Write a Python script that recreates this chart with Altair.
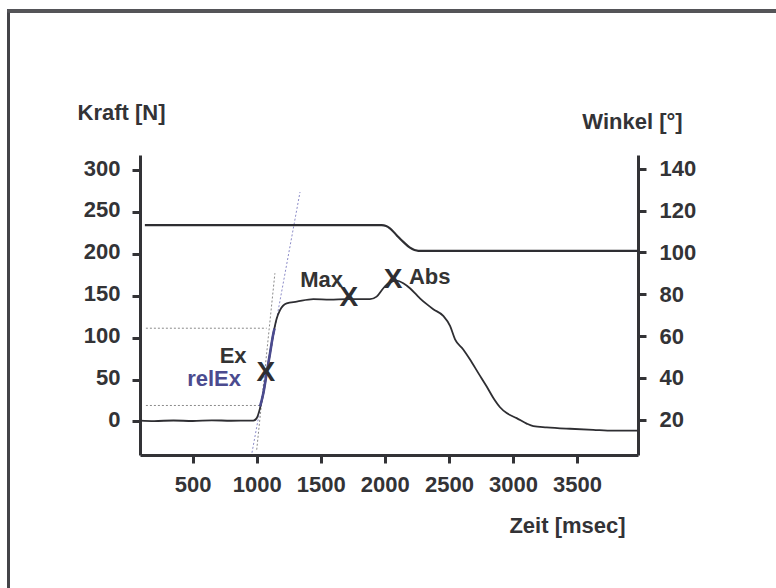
import altair as alt
import pandas as pd

# ---- data ----
t_force = [89, 200, 350, 500, 650, 800, 950, 973, 1000, 1026, 1052, 1078, 1104, 1130, 1156,
           1182, 1234, 1312, 1442, 1572, 1702, 1832, 1884, 1936, 1988, 2040, 2092, 2144, 2196,
           2248, 2274, 2327, 2378, 2456, 2509, 2548, 2612, 2665, 2730, 2795, 2847, 2899, 2951,
           3029, 3107, 3159, 3263, 3445, 3627, 3783, 3976]
f_force = [1.0, 0.5, 1.2, 0.6, 1.4, 0.9, 1.1, 1.0, 4, 16, 34, 58, 81.5, 105, 123,
           133, 141, 143, 146, 145.5, 146, 146, 146, 149, 159, 166, 168, 165, 159,
           151, 147, 140, 134, 126, 114, 98, 86, 74, 57.7, 41.7, 28, 17, 10,
           4, -2.5, -5.5, -7, -8.7, -10, -11, -11]

t_angle = [127, 1975, 2010, 2040, 2092, 2144, 2196, 2261, 3976]
w_angle = [113.1, 113.1, 112.7, 111.6, 108.3, 105.1, 102.3, 100.8, 100.8]

t_relex = [1026, 1052, 1078, 1104, 1130, 1139]
f_relex = [18, 34, 58, 81.5, 105, 111]

level_vals = [111.3, 19.1]
level_start = [135, 135]
level_end = [1078, 1025]

tan_blue_t = [963, 1338]
tan_blue_f = [-37.3, 273.8]
tan_gray_t = [1000, 1142]
tan_gray_f = [-33.7, 176.9]

marker_t = [1072, 1720, 2064]
marker_f = [57.7, 147.4, 169]

lab_text = ["Ex", "relEx", "Max", "Abs"]
lab_t = [921, 877, 1673, 2188]
lab_f = [78, 50.5, 169, 172.5]
lab_align = ["right", "right", "right", "left"]
lab_color = ["#333333", "#4b4b8f", "#333333", "#333333"]

force_ticks = [0, 50, 100, 150, 200, 250, 300]
angle_ticks = [20, 40, 60, 80, 100, 120, 140]
time_ticks = [500, 1000, 1500, 2000, 2500, 3000, 3500]

FONT = "Liberation Sans"
INK = "#333336"
FS = 22

x_scale = alt.Scale(domain=[89, 3976], nice=False, zero=False)
f_scale = alt.Scale(domain=[-40, 318], nice=False, zero=False)
w_scale = alt.Scale(domain=[3, 146.7], nice=False, zero=False)

x_axis = alt.Axis(values=time_ticks, format="d", title="Zeit [msec]", grid=False,
                  domainColor=INK, domainWidth=3, tickColor=INK, tickWidth=3, tickSize=8,
                  labelFont=FONT, labelFontSize=FS, labelFontWeight="bold", labelColor=INK,
                  labelPadding=11, labelFlush=False, labelOverlap=False,
                  titleFont=FONT, titleFontSize=FS, titleFontWeight="bold", titleColor=INK,
                  titleX=427, titleY=70, titleAlign="center", titleBaseline="middle")
f_axis = alt.Axis(values=force_ticks, format="d", title="Kraft [N]", grid=False, orient="left",
                  domainColor=INK, domainWidth=3, tickColor=INK, tickWidth=3, tickSize=8,
                  labelFont=FONT, labelFontSize=FS, labelFontWeight="bold", labelColor=INK,
                  labelPadding=12, labelFlush=False, labelOverlap=False, labelOffset=-2,
                  titleFont=FONT, titleFontSize=FS, titleFontWeight="bold", titleColor=INK,
                  titleX=-19, titleY=-43, titleAngle=0, titleAlign="center", titleBaseline="middle")
w_axis = alt.Axis(values=angle_ticks, format="d", title="Winkel [°]", grid=False, orient="right",
                  domainColor=INK, domainWidth=3, tickColor=INK, tickWidth=3, tickSize=8,
                  labelFont=FONT, labelFontSize=FS, labelFontWeight="bold", labelColor=INK,
                  labelPadding=13, labelFlush=False, labelOverlap=False,
                  titleFont=FONT, titleFontSize=FS, titleFontWeight="bold", titleColor=INK,
                  titleX=-6, titleY=-34, titleAngle=0, titleAlign="center", titleBaseline="middle")

X = alt.X("t:Q", scale=x_scale, axis=x_axis)
YF = alt.Y("F:Q", scale=f_scale, axis=f_axis)
YW = alt.Y("W:Q", scale=w_scale, axis=w_axis)

df_force = pd.DataFrame({"t": t_force, "F": f_force})
df_angle = pd.DataFrame({"t": t_angle, "W": w_angle})
df_relex = pd.DataFrame({"t": t_relex, "F": f_relex})
df_levels = pd.DataFrame({"t": level_start, "t2": level_end, "F": level_vals})
df_blue = pd.DataFrame({"t": tan_blue_t, "F": tan_blue_f})
df_gray = pd.DataFrame({"t": tan_gray_t, "F": tan_gray_f})
df_mark = pd.DataFrame({"t": marker_t, "F": marker_f, "s": ["X"] * len(marker_t)})
df_lab = pd.DataFrame({"t": lab_t, "F": lab_f, "s": lab_text, "a": lab_align, "c": lab_color})

levels = alt.Chart(df_levels).mark_rule(color="#8a8a8a", strokeWidth=1, strokeDash=[2, 2]).encode(
    x=X, x2="t2:Q", y=YF)
blue = alt.Chart(df_blue).mark_line(color="#8c8cc8", strokeWidth=1, strokeDash=[2, 2]).encode(x=X, y=YF)
gray = alt.Chart(df_gray).mark_line(color="#8a8a8a", strokeWidth=1, strokeDash=[2, 2]).encode(x=X, y=YF)
force = alt.Chart(df_force).mark_line(color="#2e2e32", strokeWidth=1.8, interpolate="monotone").encode(x=X, y=YF)
relex = alt.Chart(df_relex).mark_line(color="#4b4b8f", strokeWidth=2.6, interpolate="monotone").encode(x=X, y=YF)
marks = alt.Chart(df_mark).mark_text(font=FONT, fontSize=28, fontWeight="bold", color="#2e2e32",
                                     baseline="middle", align="center").encode(x=X, y=YF, text="s:N")
labs_right = alt.Chart(df_lab[df_lab.a == "right"]).mark_text(
    font=FONT, fontSize=FS, fontWeight="bold", baseline="middle", align="right").encode(
    x=X, y=YF, text="s:N", color=alt.Color("c:N", scale=None))
labs_left = alt.Chart(df_lab[df_lab.a == "left"]).mark_text(
    font=FONT, fontSize=FS, fontWeight="bold", baseline="middle", align="left").encode(
    x=X, y=YF, text="s:N", color=alt.Color("c:N", scale=None))

# frame border (left and top) of the figure
border_left = alt.Chart(df_force).mark_rule(color="#444448", strokeWidth=2.5).encode(
    x=alt.value(-131.5), y=alt.value(-144), y2=alt.value(433))
border_top = alt.Chart(df_force).mark_rule(color="#555558", strokeWidth=2.5).encode(
    x=alt.value(-132.5), x2=alt.value(636), y=alt.value(-144))

force_layer = alt.layer(levels, blue, gray, force, relex, marks, labs_right, labs_left,
                        border_left, border_top)
angle_layer = alt.Chart(df_angle).mark_line(color="#2e2e32", strokeWidth=2.2,
                                            interpolate="monotone").encode(x=X, y=YW)

chart = alt.layer(force_layer, angle_layer).resolve_scale(y="independent").properties(
    width=498, height=300,
    autosize=alt.AutoSizeParams(type="none"),
    padding={"left": 140, "top": 155, "right": 138, "bottom": 133},
    background="white",
).configure_view(stroke=None)

chart.save("out.html", embed_options={"renderer": "svg", "actions": False})
